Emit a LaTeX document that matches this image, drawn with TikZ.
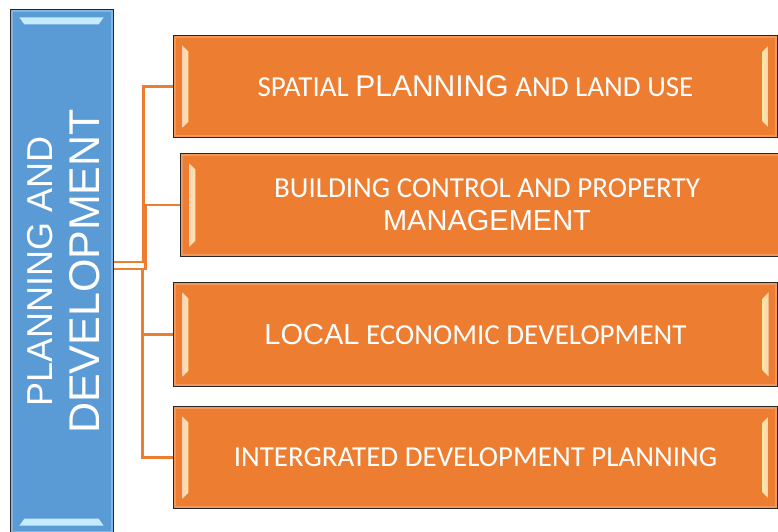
\documentclass[tikz,border=0pt]{standalone}
\usepackage{fontspec}
\setmainfont{Carlito}
\newfontfamily\arialfont{Liberation Sans}
\usetikzlibrary{calc}

\definecolor{boxorange}{RGB}{237,125,49}
\definecolor{boxblue}{RGB}{91,155,213}
\definecolor{sheenyellow}{RGB}{255,232,165}
\definecolor{sheenblue}{RGB}{196,236,252}

\tikzset{
  topic/.style={draw=black!85, line width=1.3pt, fill=boxorange, minimum height=101pt,
    text=white, align=center, inner sep=0pt, font=\fontsize{29}{33}\selectfont},
  root/.style={draw=black!85, line width=1.3pt, fill=boxblue, minimum width=102pt,
    minimum height=523pt, inner sep=0pt},
  title/.style={rotate=90, anchor=base, text=white, inner sep=0pt},
  link/.style={draw=boxorange, line width=2.4pt},
}

% light strips on the short sides of an orange box
\newcommand{\orangesheen}[1]{%
  \draw[boxorange!80!white, line width=1.8pt] ($(#1.north west)+(2,2)$) rectangle ($(#1.south east)+(-2,-2)$);
  \shade[left color=boxorange!35!white, right color=sheenyellow]
    ($(#1.north west)+(9,10)$) -- ($(#1.north west)+(15,16)$) -- ($(#1.south west)+(15,-16)$) -- ($(#1.south west)+(9,-10)$) -- cycle;
  \shade[right color=boxorange!35!white, left color=sheenyellow]
    ($(#1.north east)+(-9,10)$) -- ($(#1.north east)+(-15,16)$) -- ($(#1.south east)+(-15,-16)$) -- ($(#1.south east)+(-9,-10)$) -- cycle;
}

\begin{document}
\begin{tikzpicture}[x=1pt, y=-1pt]
  \useasboundingbox (0,0) rectangle (778,531);

  % Main heading box
  \node[root] (root) at (62,271.5) {};
  \draw[boxblue!75!white, line width=1.8pt] ($(root.north west)+(2,2)$) rectangle ($(root.south east)+(-2,-2)$);
  \fill[sheenblue] ($(root.north west)+(9,8)$) -- ($(root.north east)+(-10,8)$)
    -- ($(root.north east)+(-15,15)$) -- ($(root.north west)+(14,15)$) -- cycle;
  \fill[sheenblue] ($(root.south west)+(9,-8)$) -- ($(root.south east)+(-10,-8)$)
    -- ($(root.south east)+(-15,-15)$) -- ($(root.south west)+(14,-15)$) -- cycle;
  \node[title, font=\arialfont\fontsize{36}{40}\selectfont] (plan) at (52,271.5) {PLANNING AND};
  \node[title, font=\arialfont\fontsize{43}{48}\selectfont] (dev) at (99,271.5) {DEVELOPMENT};

  % Sub boxes
  \node[topic, minimum width=603pt] (spatial) at (475.5,86.5)
    {SPATIAL {\arialfont\fontsize{30}{33}\selectfont PLANNING} AND LAND USE};
  \node[topic, minimum width=612pt, minimum height=102pt] (building) at (487,205)
    {BUILDING CONTROL AND PROPERTY\\{\arialfont\fontsize{29}{32}\selectfont MANAGEMENT}};
  \node[topic, minimum width=603pt, minimum height=103pt] (led) at (475.5,334.5)
    {{\arialfont\fontsize{29}{33}\selectfont LOCAL} ECONOMIC DEVELOPMENT};
  \node[topic, minimum width=603pt] (idp) at (475.5,457.5)
    {INTERGRATED DEVELOPMENT PLANNING};

  \orangesheen{spatial}
  \orangesheen{building}
  \orangesheen{led}
  \orangesheen{idp}

  % Connectors
  \draw[link] ([yshift=9.5pt]root.east) -- ++(30,0) |- (spatial.west);
  \draw[link] ([yshift=2.5pt]root.east) -- ++(32,0) |- (building.west);
  \draw[link] ([yshift=2.5pt]root.east) -- ++(29,0) |- (led.west);
  \draw[link] ([yshift=2.5pt]root.east) -- ++(29,0) |- (idp.west);

\end{tikzpicture}
\end{document}
